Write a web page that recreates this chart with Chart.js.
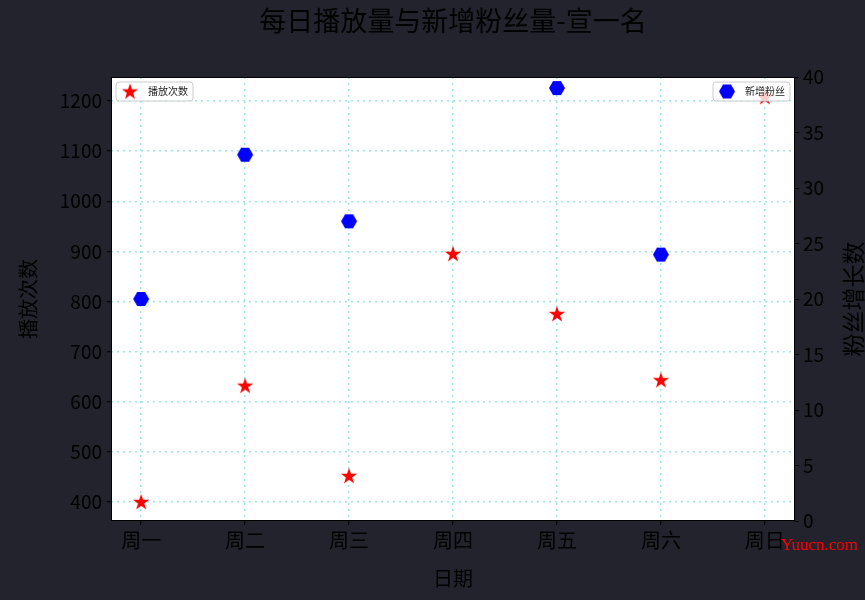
<!DOCTYPE html>
<html>
<head>
<meta charset="utf-8">
<script src="https://cdn.jsdelivr.net/npm/chart.js@4"></script>
<style>
  html, body { margin: 0; padding: 0; background: #23232d; }
  canvas { display: block; }
</style>
</head>
<body>
<canvas id="chart" width="865" height="600"></canvas>
<script>
const days = ["周一", "周二", "周三", "周四", "周五", "周六", "周日"];
const playCounts = [400, 632, 452, 895, 775, 643, 1208];
const newFans = [20, 33, 27, null, 39, 24, null];
const playTicks = [400, 500, 600, 700, 800, 900, 1000, 1100, 1200];
const fanTicks = [0, 5, 10, 15, 20, 25, 30, 35, 40];

const CJK = "'Noto Sans CJK SC', 'Noto Sans', sans-serif";

function makeStar(color) {
  const c = document.createElement("canvas");
  c.width = 18;
  c.height = 18;
  const ctx = c.getContext("2d");
  ctx.fillStyle = color;
  ctx.beginPath();
  for (let i = 0; i < 10; i++) {
    const r = i % 2 === 0 ? 8.5 : 3.3;
    const a = -Math.PI / 2 + (i * Math.PI) / 5;
    const px = 9 + r * Math.cos(a);
    const py = 9.5 + r * Math.sin(a);
    if (i === 0) ctx.moveTo(px, py);
    else ctx.lineTo(px, py);
  }
  ctx.closePath();
  ctx.fill();
  return c;
}

function makeHexagon(color) {
  const c = document.createElement("canvas");
  c.width = 18;
  c.height = 18;
  const ctx = c.getContext("2d");
  ctx.fillStyle = color;
  ctx.beginPath();
  for (let i = 0; i < 6; i++) {
    const a = (i * Math.PI) / 3;
    const px = 9 + 8 * Math.cos(a);
    const py = 9 + 8 * Math.sin(a);
    if (i === 0) ctx.moveTo(px, py);
    else ctx.lineTo(px, py);
  }
  ctx.closePath();
  ctx.fill();
  return c;
}

const starImg = makeStar("#ff0000");
const hexImg = makeHexagon("#0000ff");

function roundRect(ctx, x, y, w, h, r) {
  ctx.beginPath();
  ctx.moveTo(x + r, y);
  ctx.lineTo(x + w - r, y);
  ctx.quadraticCurveTo(x + w, y, x + w, y + r);
  ctx.lineTo(x + w, y + h - r);
  ctx.quadraticCurveTo(x + w, y + h, x + w - r, y + h);
  ctx.lineTo(x + r, y + h);
  ctx.quadraticCurveTo(x, y + h, x, y + h - r);
  ctx.lineTo(x, y + r);
  ctx.quadraticCurveTo(x, y, x + r, y);
  ctx.closePath();
}

function drawLegend(ctx, x, y, w, h, img, label) {
  ctx.save();
  roundRect(ctx, x, y, w, h, 3);
  ctx.fillStyle = "rgba(255,255,255,0.8)";
  ctx.fill();
  ctx.strokeStyle = "#cccccc";
  ctx.lineWidth = 1;
  ctx.stroke();
  ctx.drawImage(img, x + 5, y + h / 2 - 9);
  ctx.fillStyle = "#222222";
  ctx.font = "10px " + CJK;
  ctx.textBaseline = "middle";
  ctx.fillText(label, x + 32, y + h / 2);
  ctx.restore();
}

const decorPlugin = {
  id: "decor",
  beforeDraw(chart) {
    const { ctx, chartArea } = chart;
    ctx.save();
    ctx.fillStyle = "#ffffff";
    ctx.fillRect(chartArea.left, chartArea.top, chartArea.right - chartArea.left, chartArea.bottom - chartArea.top);
    ctx.restore();
  },
  afterDraw(chart) {
    const { ctx, chartArea } = chart;
    ctx.save();
    // axes frame
    ctx.strokeStyle = "#000000";
    ctx.lineWidth = 1;
    ctx.strokeRect(chartArea.left + 0.5, chartArea.top + 0.5, chartArea.right - chartArea.left - 1, chartArea.bottom - chartArea.top - 1);

    // title, centred over the plot area
    ctx.fillStyle = "#000000";
    ctx.font = "27px " + CJK;
    ctx.textAlign = "center";
    ctx.textBaseline = "middle";
    ctx.fillText("每日播放量与新增粉丝量-宣一名", (chartArea.left + chartArea.right) / 2, 21);

    // right axis title, reading bottom to top
    ctx.translate(853, (chartArea.top + chartArea.bottom) / 2);
    ctx.rotate(-Math.PI / 2);
    ctx.font = "23px " + CJK;
    ctx.fillText("粉丝增长数", 0, 0);
    ctx.restore();

    drawLegend(ctx, 116, 82, 77, 19, starImg, "播放次数");
    drawLegend(ctx, 713, 82, 77, 19, hexImg, "新增粉丝");

    ctx.save();
    ctx.fillStyle = "#ff0000";
    ctx.font = "17px 'Liberation Serif', serif";
    ctx.textBaseline = "middle";
    ctx.fillText("Yuucn.com", 781, 546);
    ctx.restore();
  },
};

const tickFont = { family: CJK, size: 19 };

new Chart(document.getElementById("chart"), {
  type: "line",
  data: {
    datasets: [
      {
        label: "播放次数",
        data: playCounts.map((v, i) => ({ x: i, y: v })),
        yAxisID: "y",
        showLine: false,
        pointStyle: starImg,
        pointRadius: 8,
        pointHoverRadius: 8,
      },
      {
        label: "新增粉丝",
        data: newFans.map((v, i) => ({ x: i, y: v })),
        yAxisID: "y1",
        showLine: false,
        pointStyle: hexImg,
        pointRadius: 8,
        pointHoverRadius: 8,
      },
    ],
  },
  options: {
    responsive: false,
    animation: false,
    layout: { padding: { top: 77, left: 0, right: 0, bottom: 0 } },
    plugins: {
      legend: { display: false },
      title: { display: false },
      tooltip: { enabled: false },
    },
    scales: {
      x: {
        type: "linear",
        min: -0.29,
        max: 6.29,
        afterBuildTicks: (scale) => {
          scale.ticks = days.map((d, i) => ({ value: i }));
        },
        afterFit: (scale) => {
          scale.height = 79;
        },
        ticks: {
          color: "#000000",
          font: { family: CJK, size: 20 },
          padding: 3,
          maxRotation: 0,
          autoSkip: false,
          callback: (value) => days[value],
        },
        grid: {
          color: "#9fe6e6",
          lineWidth: 1.5,
          tickColor: "#000000",
          tickLength: 4,
          tickWidth: 1,
        },
        border: { display: false, dash: [2, 4] },
        title: {
          display: true,
          text: "日期",
          color: "#000000",
          font: { family: CJK, size: 20 },
          padding: { top: 10, bottom: 10 },
        },
      },
      y: {
        position: "left",
        min: 362,
        max: 1248,
        afterBuildTicks: (scale) => {
          scale.ticks = playTicks.map((v) => ({ value: v }));
        },
        afterFit: (scale) => {
          scale.width = 111;
        },
        ticks: {
          color: "#000000",
          font: tickFont,
          padding: 5,
          callback: (value) => String(value),
        },
        grid: {
          color: "#9fe6e6",
          lineWidth: 1.5,
          tickColor: "#000000",
          tickLength: 4,
          tickWidth: 1,
        },
        border: { display: false, dash: [2, 4] },
        title: {
          display: true,
          text: "播放次数",
          color: "#000000",
          font: { family: CJK, size: 20 },
          padding: { top: 16, bottom: 0 },
        },
      },
      y1: {
        position: "right",
        min: 0,
        max: 40,
        afterBuildTicks: (scale) => {
          scale.ticks = fanTicks.map((v) => ({ value: v }));
        },
        afterFit: (scale) => {
          scale.width = 70;
        },
        ticks: {
          color: "#000000",
          font: tickFont,
          padding: 4,
          callback: (value) => String(value),
        },
        grid: {
          drawOnChartArea: false,
          tickColor: "#000000",
          tickLength: 4,
          tickWidth: 1,
        },
        border: { display: false },
      },
    },
  },
  plugins: [decorPlugin],
});
</script>
</body>
</html>
